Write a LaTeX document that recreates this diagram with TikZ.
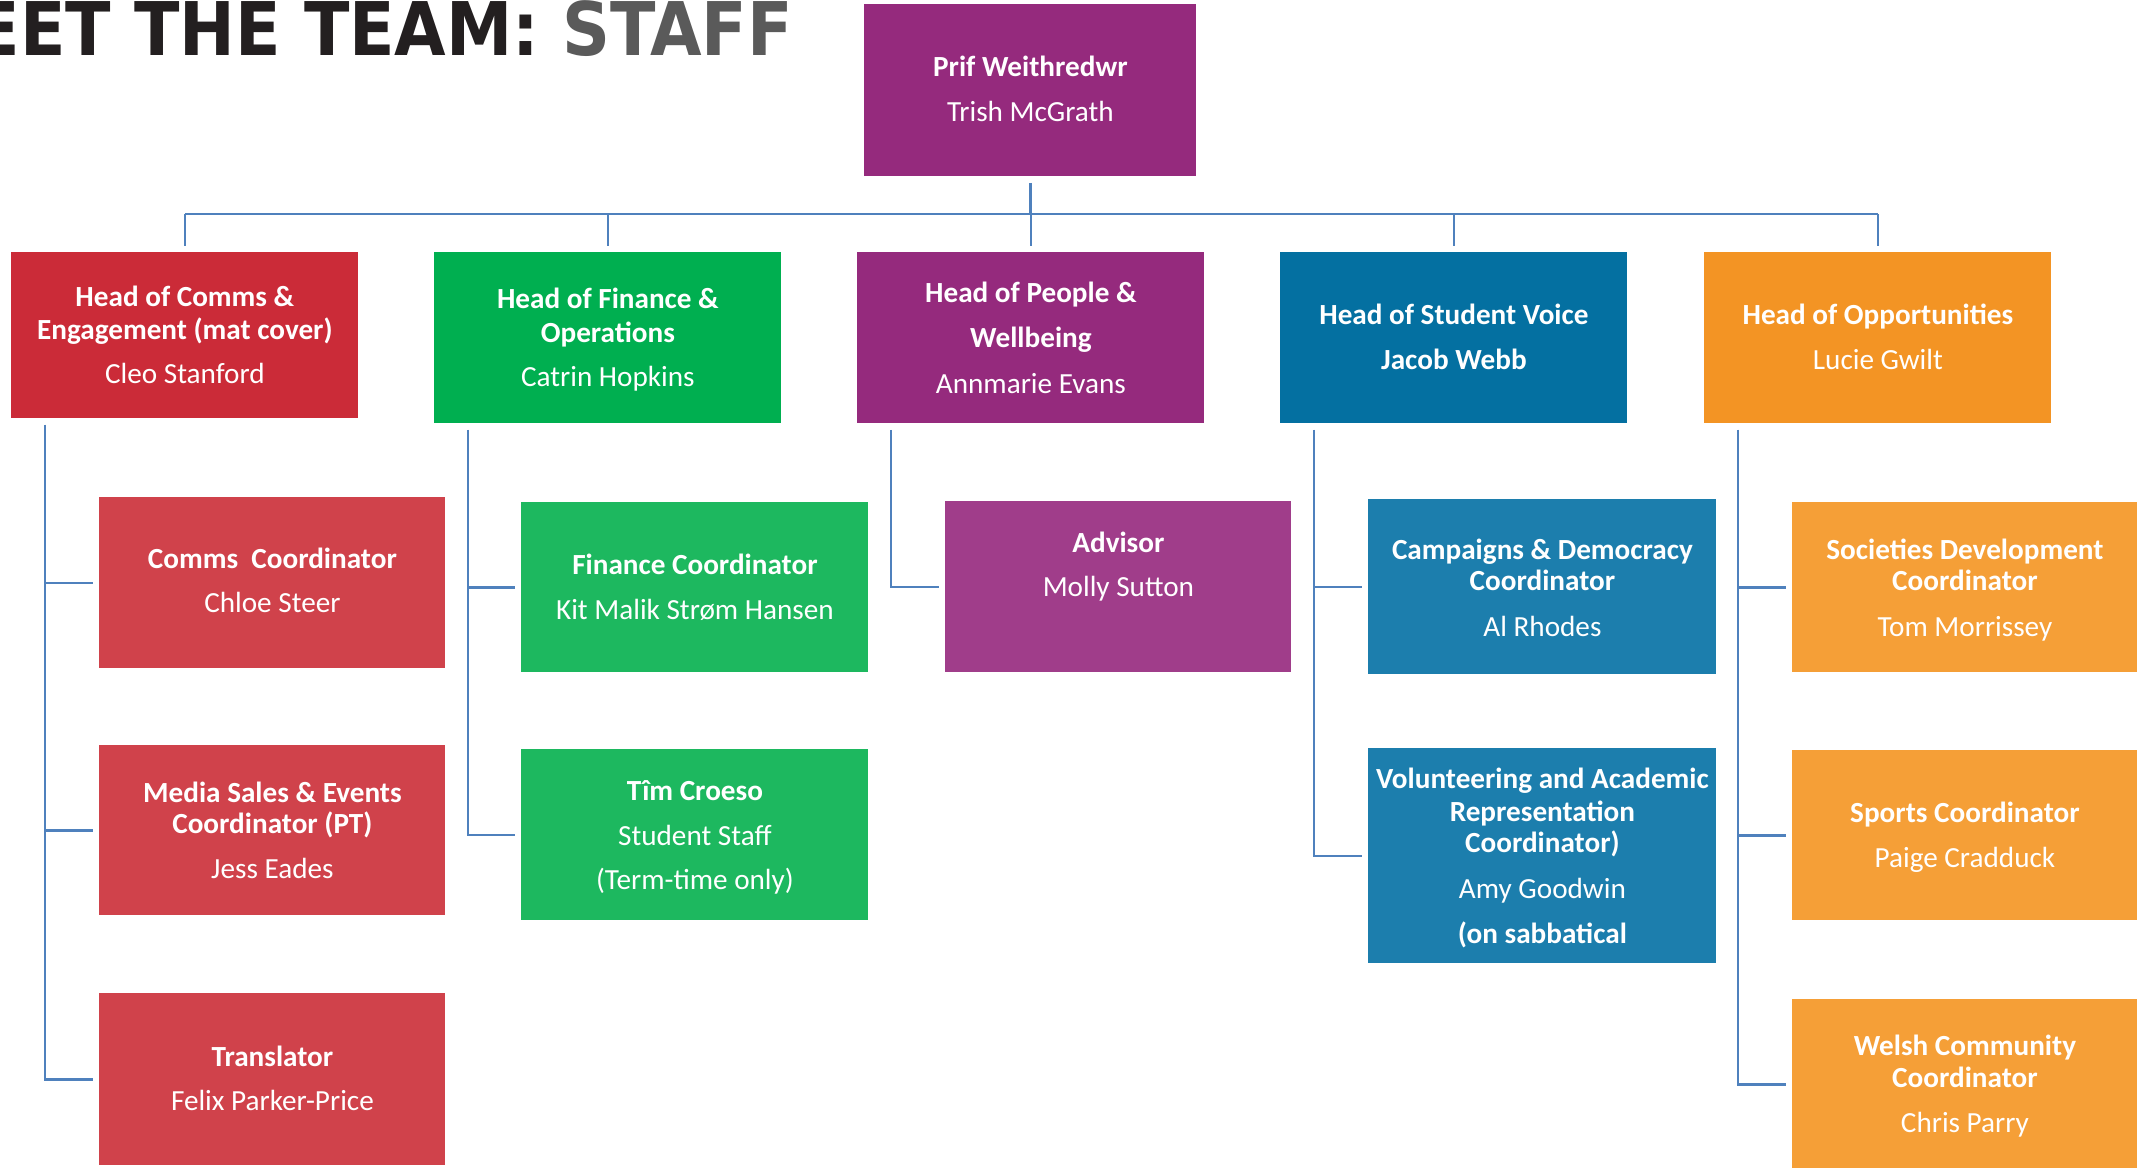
\documentclass[tikz,border=0pt]{standalone}
\usepackage{fontspec}
\setmainfont{Carlito}
\newfontfamily\titlefont{DejaVu Sans Condensed}
\usetikzlibrary{calc}

\definecolor{ceoPurple}{HTML}{952A7D}
\definecolor{headRed}{HTML}{CB2B38}
\definecolor{headGreen}{HTML}{00AF50}
\definecolor{headPurple}{HTML}{952A7D}
\definecolor{headBlue}{HTML}{0470A1}
\definecolor{headOrange}{HTML}{F39424}
\definecolor{subRed}{HTML}{D0424B}
\definecolor{subGreen}{HTML}{1DB85F}
\definecolor{subPurple}{HTML}{A03D8A}
\definecolor{subBlue}{HTML}{1C7EAD}
\definecolor{subOrange}{HTML}{F59F37}
\definecolor{linkBlue}{HTML}{4F81BD}
\definecolor{titleDark}{HTML}{231F20}
\definecolor{titleGrey}{HTML}{5A5A5A}

% one unit = one pixel of the chart, y grows downwards
\tikzset{
  unitbox/.style={draw=none, inner sep=0, anchor=north west},
  hd/.style={text=white, inner sep=0, anchor=base, yshift=-5pt,
    font=\fontsize{14.6}{17.5}\selectfont\bfseries},
  nm/.style={text=white, inner sep=0, anchor=base, yshift=-5pt,
    font=\fontsize{14.6}{17.5}\selectfont},
  link/.style={draw=linkBlue, line width=1.2pt},
}
% \orgbox{name}{colour}{x1}{y1}{x2}{y2}
\newcommand\orgbox[6]{%
  \node[unitbox, fill=#2, minimum width={(#5-#3)*0.5pt},
        minimum height={(#6-#4)*0.5pt}] (#1) at (#3,#4) {};}

\begin{document}
\begin{tikzpicture}[x=0.5pt,y=-0.5pt]
\useasboundingbox (0,0) rectangle (2151,1167);
\clip (0,0) rectangle (2151,1167);

% heading
\node[anchor=base east, inner sep=0,
      font=\titlefont\fontsize{37}{40}\selectfont\bfseries] (title)
  at (793,55) {\textcolor{titleDark}{EET THE TEAM:} \textcolor{titleGrey}{STAFF}};

% chief executive
\orgbox{prif}{ceoPurple}{864}{4}{1196}{176}
\node[hd] (prif-1) at (prif.center |- 0,66) {Prif Weithredwr};
\node[nm] (prif-2) at (prif.center |- 0,111) {Trish McGrath};

% heads of department
\orgbox{comms}{headRed}{11}{252}{358}{418}
\node[hd] (comms-1) at (comms.center |- 0,296) {Head of Comms \&};
\node[hd] (comms-2) at (comms.center |- 0,329) {Engagement (mat cover)};
\node[nm] (comms-3) at (comms.center |- 0,373) {Cleo Stanford};

\orgbox{fin}{headGreen}{434}{252}{781}{423}
\node[hd] (fin-1) at (fin.center |- 0,298) {Head of Finance \&};
\node[hd] (fin-2) at (fin.center |- 0,332) {Operations};
\node[nm] (fin-3) at (fin.center |- 0,376) {Catrin Hopkins};

\orgbox{ppl}{headPurple}{857}{252}{1204}{423}
\node[hd] (ppl-1) at (ppl.center |- 0,292) {Head of People \&};
\node[hd] (ppl-2) at (ppl.center |- 0,337) {Wellbeing};
\node[nm] (ppl-3) at (ppl.center |- 0,383) {Annmarie Evans};

\orgbox{sv}{headBlue}{1280}{252}{1627}{423}
\node[hd] (sv-1) at (sv.center |- 0,314) {Head of Student Voice};
\node[hd] (sv-2) at (sv.center |- 0,359) {Jacob Webb};

\orgbox{opp}{headOrange}{1704}{252}{2051}{423}
\node[hd] (opp-1) at (opp.center |- 0,314) {Head of Opportunities};
\node[nm] (opp-2) at (opp.center |- 0,359) {Lucie Gwilt};

% staff
\orgbox{cc}{subRed}{99}{497}{445}{668}
\node[hd] (cc-1) at (cc.center |- 0,558) {Comms\ \ Coordinator};
\node[nm] (cc-2) at (cc.center |- 0,602) {Chloe Steer};

\orgbox{ms}{subRed}{99}{745}{445}{915}
\node[hd] (ms-1) at (ms.center |- 0,792) {Media Sales \& Events};
\node[hd] (ms-2) at (ms.center |- 0,823) {Coordinator (PT)};
\node[nm] (ms-3) at (ms.center |- 0,868) {Jess Eades};

\orgbox{tr}{subRed}{99}{993}{445}{1165}
\node[hd] (tr-1) at (tr.center |- 0,1056) {Translator};
\node[nm] (tr-2) at (tr.center |- 0,1100) {Felix Parker-Price};

\orgbox{fc}{subGreen}{521}{502}{868}{672}
\node[hd] (fc-1) at (fc.center |- 0,564) {Finance Coordinator};
\node[nm] (fc-2) at (fc.center |- 0,609) {Kit Malik Strøm Hansen};

\orgbox{tc}{subGreen}{521}{749}{868}{920}
\node[hd] (tc-1) at (tc.center |- 0,790) {Tîm Croeso};
\node[nm] (tc-2) at (tc.center |- 0,835) {Student Staff};
\node[nm] (tc-3) at (tc.center |- 0,879) {(Term-time only)};

\orgbox{adv}{subPurple}{945}{501}{1291}{672}
\node[hd] (adv-1) at (adv.center |- 0,542) {Advisor};
\node[nm] (adv-2) at (adv.center |- 0,586) {Molly Sutton};

\orgbox{cd}{subBlue}{1368}{499}{1716}{674}
\node[hd] (cd-1) at (cd.center |- 0,549) {Campaigns \& Democracy};
\node[hd] (cd-2) at (cd.center |- 0,580) {Coordinator};
\node[nm] (cd-3) at (cd.center |- 0,626) {Al Rhodes};

\orgbox{vol}{subBlue}{1368}{748}{1716}{963}
\node[hd] (vol-1) at (vol.center |- 0,778) {Volunteering and Academic};
\node[hd] (vol-2) at (vol.center |- 0,811) {Representation};
\node[hd] (vol-3) at (vol.center |- 0,842) {Coordinator)};
\node[nm] (vol-4) at (vol.center |- 0,888) {Amy Goodwin};
\node[hd] (vol-5) at (vol.center |- 0,933) {(on sabbatical};

\orgbox{sd}{subOrange}{1792}{502}{2137}{672}
\node[hd] (sd-1) at (sd.center |- 0,549) {Societies Development};
\node[hd] (sd-2) at (sd.center |- 0,580) {Coordinator};
\node[nm] (sd-3) at (sd.center |- 0,626) {Tom Morrissey};

\orgbox{sp}{subOrange}{1792}{750}{2137}{920}
\node[hd] (sp-1) at (sp.center |- 0,812) {Sports Coordinator};
\node[nm] (sp-2) at (sp.center |- 0,857) {Paige Cradduck};

\orgbox{wc}{subOrange}{1792}{999}{2137}{1169}
\node[hd] (wc-1) at (wc.center |- 0,1045) {Welsh Community};
\node[hd] (wc-2) at (wc.center |- 0,1077) {Coordinator};
\node[nm] (wc-3) at (wc.center |- 0,1122) {Chris Parry};

% reporting lines: chief executive to heads
\coordinate (busL) at (comms.north |- 0,214);
\coordinate (busR) at (opp.north |- 0,214);
\draw[link] ([yshift=-3]prif.south) -- (prif.south |- busL);
\draw[link] (busL) -- (busR);
\foreach \h in {comms,fin,ppl,sv,opp}
  \draw[link] (\h.north |- busL) -- ([yshift=3]\h.north);

% reporting lines: heads to staff
\foreach \h/\kids in {comms/{cc,ms,tr}, fin/{fc,tc}, ppl/{adv}, sv/{cd,vol}, opp/{sd,sp,wc}}{
  \coordinate (\h-trunk) at ($(\h.south west)+(34,6)$);
  \foreach \k in \kids
    \draw[link] (\h-trunk) |- ([xshift=-3]\k.west);
}
\end{tikzpicture}
\end{document}
